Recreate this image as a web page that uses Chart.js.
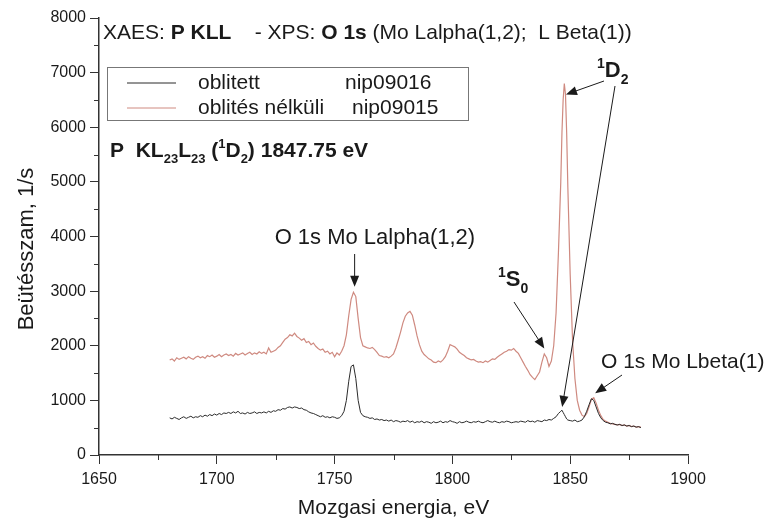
<!DOCTYPE html>
<html>
<head>
<meta charset="utf-8">
<title>XAES P KLL</title>
<script src="https://cdn.jsdelivr.net/npm/chart.js@4.4.1/dist/chart.umd.min.js"></script>
<style>
    html, body { margin: 0; padding: 0; background: #ffffff; }
    #wrap { width: 774px; height: 525px; }
</style>
</head>
<body>
<div id="wrap"><canvas id="chart" width="774" height="525"></canvas></div>
<script>
// Kinetic energy, eV
const energy = [
    1680, 1681, 1682, 1683, 1684, 1685, 1686, 1687, 1688, 1689,
    1690, 1691, 1692, 1693, 1694, 1695, 1696, 1697, 1698, 1699,
    1700, 1701, 1702, 1703, 1704, 1705, 1706, 1707, 1708, 1709,
    1710, 1711, 1712, 1713, 1714, 1715, 1716, 1717, 1718, 1719,
    1720, 1721, 1722, 1723, 1724, 1725, 1726, 1727, 1728, 1729,
    1730, 1731, 1732, 1733, 1734, 1735, 1736, 1737, 1738, 1739,
    1740, 1741, 1742, 1743, 1744, 1745, 1746, 1747, 1748, 1749,
    1750, 1751, 1752, 1753, 1754, 1755, 1756, 1757, 1758, 1759,
    1760, 1761, 1762, 1763, 1764, 1765, 1766, 1767, 1768, 1769,
    1770, 1771, 1772, 1773, 1774, 1775, 1776, 1777, 1778, 1779,
    1780, 1781, 1782, 1783, 1784, 1785, 1786, 1787, 1788, 1789,
    1790, 1791, 1792, 1793, 1794, 1795, 1796, 1797, 1798, 1799,
    1800, 1801, 1802, 1803, 1804, 1805, 1806, 1807, 1808, 1809,
    1810, 1811, 1812, 1813, 1814, 1815, 1816, 1817, 1818, 1819,
    1820, 1821, 1822, 1823, 1824, 1825, 1826, 1827, 1828, 1829,
    1830, 1831, 1832, 1833, 1834, 1835, 1836, 1837, 1838, 1839,
    1840, 1841, 1842, 1843, 1844, 1845, 1846, 1846.5, 1847, 1847.5, 1848, 1848.5, 1849,
    1850, 1851, 1852, 1853, 1854, 1855, 1856, 1857, 1858, 1859,
    1860, 1861, 1862, 1863, 1864, 1865, 1866, 1867, 1868, 1869,
    1870, 1871, 1872, 1873, 1874, 1875, 1876, 1877, 1878, 1879,
    1880
];

// oblitett  nip09016 (black)
const oblitett = [
    680, 660, 690, 670, 650, 680, 700, 670, 690, 710,
    680, 700, 690, 720, 700, 730, 710, 740, 720, 750,
    730, 760, 740, 770, 760, 780, 760, 790, 770, 800,
    760, 770, 750, 780, 760, 770, 790, 760, 780, 770,
    790, 770, 800, 780, 810, 800, 830, 820, 850, 840,
    870, 880, 860, 880, 870, 850, 860, 830, 820, 790,
    770, 760, 740, 720, 700, 720, 690, 700, 680, 700,
    690, 670, 680, 720, 800, 1000, 1350, 1620, 1650, 1400,
    1000, 780, 720, 700, 690, 670, 680, 650, 660, 640,
    650, 630, 640, 620, 640, 610, 630, 620, 600, 620,
    610, 630, 600, 620, 590, 610, 600, 620, 590, 610,
    600, 580, 610, 590, 600, 620, 590, 610, 600, 630,
    610, 600, 580, 610, 590, 600, 620, 600, 590, 610,
    600, 620, 600, 590, 610, 630, 610, 600, 620, 600,
    590, 610, 600, 620, 610, 590, 600, 610, 600, 620,
    610, 600, 630, 610, 620, 600, 630, 620, 610, 640,
    630, 650, 640, 670, 700, 760, 800, 820, 780, 740, 700, 660, 640,
    630, 620, 640, 610, 620, 640, 700, 800, 920, 1030,
    1000, 880, 760, 680, 630, 600, 590, 570, 580, 560,
    550, 560, 540, 550, 530, 540, 520, 530, 510, 520,
    500
];

// oblités nélküli  nip09015 (red)
const oblitesNelkuli = [
    1740, 1760, 1720, 1780, 1750, 1770, 1790, 1760, 1800, 1770,
    1750, 1790, 1810, 1780, 1800, 1770, 1820, 1800, 1830, 1790,
    1810, 1840, 1800, 1830, 1850, 1820, 1840, 1810, 1860, 1830,
    1850, 1870, 1830, 1860, 1880, 1840, 1870, 1850, 1890, 1860,
    1880, 1850, 1960, 1880, 1900, 1920, 1970, 2000, 2060, 2120,
    2150, 2200, 2180, 2230, 2170, 2140, 2100, 2130, 2060, 2080,
    2020, 2050, 1990, 1950, 1920, 1940, 1880, 1900, 1850, 1880,
    1800, 1870, 1830, 1900, 2000, 2200, 2550, 2850, 2980, 2900,
    2500, 2150, 2000, 1980, 1960, 1950, 1970, 1930, 1880, 1820,
    1810, 1790, 1800, 1780, 1810, 1850, 1960, 2100, 2250, 2420,
    2540, 2600, 2630, 2560, 2380, 2180, 2020, 1900, 1840, 1800,
    1760, 1740, 1700, 1690, 1720, 1700, 1740, 1800, 1900, 2020,
    2000, 1980, 1940, 1880, 1850, 1820, 1780, 1760, 1740, 1750,
    1720, 1700, 1710, 1690, 1720, 1700, 1730, 1760, 1750, 1790,
    1820, 1850, 1880, 1900, 1930, 1920, 1950, 1900, 1860, 1780,
    1700, 1620, 1550, 1470, 1420, 1380, 1450, 1520, 1700, 1850,
    1780, 1620, 1720, 2000, 2600, 3700, 5000, 5900, 6500, 6800, 6600, 5900, 4900,
    3300, 2100, 1400, 1000, 820, 730, 700, 760, 880, 1020,
    1050, 950, 820, 720, 650, 620, 600, 580, 570, 560,
    550, 560, 540, 550, 530, 540, 520, 530, 510, 520,
    510
];

const seriesNames = ['oblitett', 'oblités nélküli'];
const seriesFiles = ['nip09016', 'nip09015'];
const xTicks = [1650, 1700, 1750, 1800, 1850, 1900];
const yTicks = [0, 1000, 2000, 3000, 4000, 5000, 6000, 7000, 8000];

const COLORS = {
    black: '#2b2b2b',
    red: '#cf8a80',
    axis: '#333333',
    text: '#1a1a1a',
    legendBorder: '#777777'
};
const FONT = "'Liberation Sans', Arial, sans-serif";

function toPoints(xs, ys) {
    return xs.map((x, i) => ({ x: x, y: ys[i] }));
}

// draw a line of text made of runs: {t, b (bold), s ('sub' | 'sup')}
function drawRich(ctx, x, y, runs, size, align) {
    const fontOf = r => (r.b ? 'bold ' : '') + (r.s ? Math.round(size * 0.62) : size) + 'px ' + FONT;
    let total = 0;
    runs.forEach(r => { ctx.font = fontOf(r); total += ctx.measureText(r.t).width; });
    let cx = align === 'center' ? x - total / 2 : x;
    ctx.textAlign = 'left';
    ctx.textBaseline = 'alphabetic';
    runs.forEach(r => {
        ctx.font = fontOf(r);
        let dy = 0;
        if (r.s === 'sub') dy = size * 0.3;
        if (r.s === 'sup') dy = -size * 0.42;
        ctx.fillText(r.t, cx, y + dy);
        cx += ctx.measureText(r.t).width;
    });
}

function arrow(ctx, x1, y1, x2, y2) {
    const ang = Math.atan2(y2 - y1, x2 - x1);
    const len = 11, half = 4.5;
    ctx.beginPath();
    ctx.moveTo(x1, y1);
    ctx.lineTo(x2 - Math.cos(ang) * len * 0.8, y2 - Math.sin(ang) * len * 0.8);
    ctx.stroke();
    ctx.beginPath();
    ctx.moveTo(x2, y2);
    ctx.lineTo(x2 - Math.cos(ang) * len + Math.sin(ang) * half, y2 - Math.sin(ang) * len - Math.cos(ang) * half);
    ctx.lineTo(x2 - Math.cos(ang) * len - Math.sin(ang) * half, y2 - Math.sin(ang) * len + Math.cos(ang) * half);
    ctx.closePath();
    ctx.fill();
}

// Minor ticks on both axes
const minorTicks = {
    id: 'minorTicks',
    afterDraw(chart) {
        const { ctx, scales: { x, y } } = chart;
        ctx.save();
        ctx.strokeStyle = COLORS.axis;
        ctx.lineWidth = 1;
        for (let v = 1675; v < 1900; v += 50) {
            const px = Math.round(x.getPixelForValue(v)) + 0.5;
            ctx.beginPath();
            ctx.moveTo(px, y.bottom);
            ctx.lineTo(px, y.bottom + 5);
            ctx.stroke();
        }
        for (let v = 500; v < 8000; v += 1000) {
            const py = Math.round(y.getPixelForValue(v)) + 0.5;
            ctx.beginPath();
            ctx.moveTo(x.left - 5, py);
            ctx.lineTo(x.left, py);
            ctx.stroke();
        }
        ctx.restore();
    }
};

// Title, legend, axis title and peak labels
const overlay = {
    id: 'overlay',
    afterDraw(chart) {
        const { ctx, scales: { x, y } } = chart;
        ctx.save();
        ctx.fillStyle = COLORS.text;
        ctx.strokeStyle = COLORS.text;
        ctx.lineWidth = 1;

        // y axis title
        ctx.save();
        ctx.translate(27, 249);
        ctx.rotate(-Math.PI / 2);
        ctx.font = '22px ' + FONT;
        ctx.textAlign = 'center';
        ctx.textBaseline = 'middle';
        ctx.fillText('Beütésszam, 1/s', 0, 0);
        ctx.restore();

        drawRich(ctx, 103, 39, [
            { t: 'XAES: ' }, { t: 'P KLL', b: 1 }, { t: '    - XPS: ' }, { t: 'O 1s', b: 1 },
            { t: ' (Mo Lalpha(1,2);  L Beta(1))' }
        ], 21);

        // legend box
        ctx.strokeStyle = COLORS.legendBorder;
        ctx.strokeRect(107.5, 67.5, 361, 53);
        const rows = [[COLORS.black, 83], [COLORS.red, 108]];
        rows.forEach(([c, ry], i) => {
            ctx.strokeStyle = c;
            ctx.beginPath();
            ctx.moveTo(127, ry);
            ctx.lineTo(176, ry);
            ctx.stroke();
            ctx.font = '21px ' + FONT;
            ctx.fillStyle = COLORS.text;
            ctx.textBaseline = 'middle';
            ctx.fillText(seriesNames[i], 198, ry);
            ctx.fillText(seriesFiles[i], i === 0 ? 345 : 352, ry);
        });

        ctx.fillStyle = COLORS.text;
        ctx.strokeStyle = COLORS.text;
        drawRich(ctx, 110, 157, [
            { t: 'P  KL', b: 1 }, { t: '23', b: 1, s: 'sub' }, { t: 'L', b: 1 }, { t: '23', b: 1, s: 'sub' },
            { t: ' (', b: 1 }, { t: '1', b: 1, s: 'sup' }, { t: 'D', b: 1 }, { t: '2', b: 1, s: 'sub' },
            { t: ') 1847.75 eV', b: 1 }
        ], 21);

        // O 1s Mo Lalpha(1,2)
        const xa = x.getPixelForValue(1758.5);
        drawRich(ctx, xa - 80, 244, [{ t: 'O 1s Mo Lalpha(1,2)' }], 22);
        arrow(ctx, xa, 254, xa, y.getPixelForValue(3080));

        // 1D2
        drawRich(ctx, 597, 77, [{ t: '1', b: 1, s: 'sup' }, { t: 'D', b: 1 }, { t: '2', b: 1, s: 'sub' }], 22);
        arrow(ctx, 604, 81, x.getPixelForValue(1848.2), y.getPixelForValue(6600));
        arrow(ctx, 615, 86, x.getPixelForValue(1846.6), y.getPixelForValue(880));

        // 1S0
        drawRich(ctx, 498, 286, [{ t: '1', b: 1, s: 'sup' }, { t: 'S', b: 1 }, { t: '0', b: 1, s: 'sub' }], 22);
        arrow(ctx, 514, 302, x.getPixelForValue(1839), y.getPixelForValue(1950));

        // O 1s Mo Lbeta(1)
        drawRich(ctx, 601, 368, [{ t: 'O 1s Mo Lbeta(1)' }], 21);
        arrow(ctx, 622, 375, x.getPixelForValue(1860.6), y.getPixelForValue(1130));

        ctx.restore();
    }
};

new Chart(document.getElementById('chart'), {
    type: 'line',
    data: {
        datasets: [{
            label: seriesNames[0] + ' ' + seriesFiles[0],
            data: toPoints(energy, oblitett),
            borderColor: COLORS.black,
            borderWidth: 1,
            pointRadius: 0,
            tension: 0
        }, {
            label: seriesNames[1] + ' ' + seriesFiles[1],
            data: toPoints(energy, oblitesNelkuli),
            borderColor: COLORS.red,
            borderWidth: 1.2,
            pointRadius: 0,
            tension: 0
        }]
    },
    options: {
        responsive: false,
        animation: false,
        layout: { padding: { left: 0, right: 86, top: 18, bottom: 0 } },
        plugins: {
            legend: { display: false },
            tooltip: { enabled: false }
        },
        scales: {
            x: {
                type: 'linear',
                min: 1650,
                max: 1900,
                afterFit: scale => { scale.height = 70; },
                afterBuildTicks: scale => { scale.ticks = xTicks.map(v => ({ value: v })); },
                border: { display: true, color: COLORS.axis, width: 1.5 },
                grid: { drawOnChartArea: false, drawTicks: true, tickLength: 9, color: COLORS.axis },
                ticks: {
                    color: COLORS.text,
                    font: { family: FONT, size: 16 },
                    padding: 6,
                    maxRotation: 0,
                    callback: v => String(v)
                },
                title: {
                    display: true,
                    text: 'Mozgasi energia, eV',
                    color: COLORS.text,
                    font: { family: FONT, size: 21 },
                    padding: { top: 0, bottom: 4 }
                }
            },
            y: {
                min: 0,
                max: 8000,
                afterFit: scale => { scale.width = 99; },
                afterBuildTicks: scale => { scale.ticks = yTicks.map(v => ({ value: v })); },
                border: { display: true, color: COLORS.axis, width: 1.5 },
                grid: { drawOnChartArea: false, drawTicks: true, tickLength: 9, color: COLORS.axis },
                ticks: {
                    color: COLORS.text,
                    font: { family: FONT, size: 16 },
                    padding: 4,
                    callback: v => String(v)
                }
            }
        }
    },
    plugins: [minorTicks, overlay]
});
</script>
</body>
</html>
